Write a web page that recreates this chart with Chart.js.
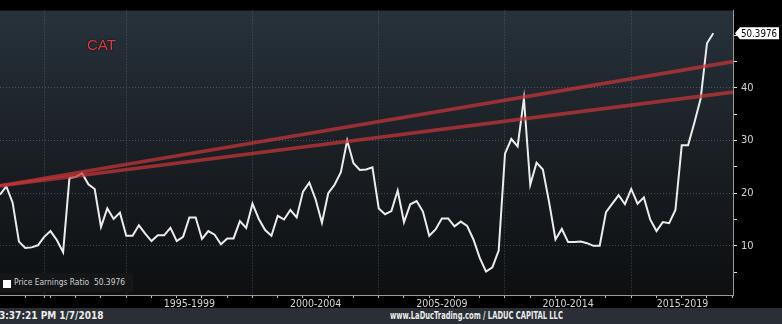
<!DOCTYPE html>
<html><head><meta charset="utf-8">
<script src="https://cdn.jsdelivr.net/npm/chart.js@4.4.0/dist/chart.umd.min.js"></script>
<style>
html,body{margin:0;padding:0;background:#000;width:782px;height:324px;overflow:hidden;}
#wrap{position:relative;width:782px;height:324px;background:#000;}
#c{position:absolute;left:0;top:0;}
#cat{position:absolute;left:87px;top:36px;font:15px "Liberation Sans",Arial,sans-serif;color:#d63c40;text-shadow:0 0 2px #000;}
#legend{position:absolute;left:0;top:273px;width:133px;height:19px;background:#141618;color:#cfcfcf;font:9px "DejaVu Sans Condensed","Liberation Sans Narrow",sans-serif;line-height:19px;}
#legend .box{position:absolute;left:3px;top:7px;width:8px;height:8px;background:#fff;}
#legend .txt{position:absolute;left:14px;top:0;white-space:pre;transform:scaleX(0.93);transform-origin:0 50%;}
#footer{position:absolute;left:0;top:308px;width:782px;height:16px;background:#2a2f35;color:#ececec;font:bold 10px "DejaVu Sans Condensed","Liberation Sans Narrow",sans-serif;line-height:16px;}
#footer .t{position:absolute;left:-1px;top:0;white-space:pre;}
#footer .w{position:absolute;left:390px;top:0;white-space:pre;transform:scaleX(0.75);transform-origin:0 50%;}
</style></head>
<body><div id="wrap">
<canvas id="c" width="782" height="308"></canvas>
<div id="cat">CAT</div>
<div id="legend"><div class="box"></div><div class="txt">Price Earnings Ratio  50.3976</div></div>
<div id="footer"><span class="t">3:37:21 PM 1/7/2018</span><span class="w">www.LaDucTrading.com / LADUC CAPITAL LLC</span></div>
</div>
<script>
// Quarterly price/earnings ratio for CAT, starting Q1 1990
const firstYear = 1990;
const peRatio = [
  19.7, 21.3, 18.2, 10.8, 9.6, 9.7, 10.1, 11.7, 12.8, 11.1,
  8.8, 22.9, 23.1, 23.8, 21.7, 20.8, 13.6, 17.1, 15.1, 16.3,
  11.9, 11.9, 13.9, 12.3, 10.9, 12.0, 12.0, 13.4, 10.9, 11.7,
  15.4, 15.4, 11.3, 12.8, 12.1, 10.3, 11.4, 11.4, 14.7, 13.4,
  18.0, 15.1, 13.0, 11.9, 15.7, 15.0, 16.8, 15.4, 20.3, 22.0,
  18.8, 14.4, 20.0, 21.6, 24.0, 30.0, 25.7, 24.4, 24.5, 24.9,
  17.1, 16.0, 16.6, 20.5, 14.5, 17.9, 18.5, 16.5, 11.9, 13.1,
  15.2, 15.2, 13.7, 14.6, 13.8, 11.2, 7.7, 5.1, 5.9, 9.1,
  27.5, 30.3, 28.9, 38.0, 21.6, 25.8, 24.5, 18.2, 11.2, 13.2,
  10.7, 10.7, 10.8, 10.5, 10.0, 10.0, 16.4, 18.0, 19.6, 17.9,
  20.8, 18.0, 19.2, 15.0, 12.8, 14.5, 14.3, 16.8, 29.1, 29.1,
  33.4, 38.0, 48.5, 50.3976
];
const lastValue = 50.3976;
const trendYears = [1990, 2019.03];
const upperTrend = [21.4, 45.0];
const lowerTrend = [21.4, 39.2];
const yTickValues = [5, 10, 15, 20, 25, 30, 35, 40, 45, 50];
const yLabelValues = [10, 20, 30, 40, 50];
const yGridValues = [10, 20, 30, 40];
const yearTicks = [1991,1992,1993,1994,1995,1996,1997,1998,1999,2000,2001,2002,2003,2004,2005,2006,2007,2008,2009,2010,2011,2012,2013,2014,2015,2016,2017,2018,2019];
const periodBounds = [1991.78, 1995, 2000, 2005, 2010, 2015];
const periodLabels = ['1995-1999', '2000-2004', '2005-2009', '2010-2014', '2015-2019'];
const periodLabelPos = [1997.5, 2002.5, 2007.5, 2012.5, 2017.03];

const FONT = '"DejaVu Sans Condensed","Liberation Sans Narrow",sans-serif';
const near = (a, b) => Math.abs(a - b) < 1e-6;

const bgPlugin = {
  id: 'bg',
  beforeDraw(chart) {
    const {ctx, chartArea: a} = chart;
    const g = ctx.createLinearGradient(0, a.top, 0, a.bottom);
    g.addColorStop(0, '#27323b');
    g.addColorStop(0.5, '#1a1f24');
    g.addColorStop(1, '#0d0f11');
    ctx.save();
    ctx.fillStyle = g;
    ctx.fillRect(a.left, a.top, a.right - a.left, a.bottom - a.top);
    ctx.restore();
  }
};
const valueBoxPlugin = {
  id: 'valueBox',
  afterDraw(chart) {
    const {ctx, chartArea: a} = chart;
    const y = chart.scales.y.getPixelForValue(lastValue);
    const x0 = a.right + 2;
    ctx.save();
    ctx.fillStyle = '#ffffff';
    ctx.beginPath();
    ctx.moveTo(x0, y);
    ctx.lineTo(x0 + 5, y - 6);
    ctx.lineTo(x0 + 44, y - 6);
    ctx.lineTo(x0 + 44, y + 6);
    ctx.lineTo(x0 + 5, y + 6);
    ctx.closePath();
    ctx.fill();
    const txt = lastValue.toFixed(4);
    ctx.fillStyle = '#000';
    ctx.font = '11px ' + FONT;
    ctx.textBaseline = 'middle';
    const w = ctx.measureText(txt).width;
    const sx = Math.min(1, 36 / w);
    ctx.translate(x0 + 6, y + 0.5);
    ctx.scale(sx, 1);
    ctx.fillText(txt, 0, 0);
    ctx.restore();
  }
};

const xTickValues = [...yearTicks, 1991.78, ...periodLabelPos].sort((a, b) => a - b);

new Chart(document.getElementById('c'), {
  type: 'line',
  data: {
    datasets: [
      {
        data: trendYears.map((x, i) => ({x, y: upperTrend[i]})),
        borderColor: 'rgba(195,52,56,0.74)', borderWidth: 3.6, pointRadius: 0, order: 0
      },
      {
        data: trendYears.map((x, i) => ({x, y: lowerTrend[i]})),
        borderColor: 'rgba(195,52,56,0.74)', borderWidth: 3.6, pointRadius: 0, order: 0
      },
      {
        label: 'Price Earnings Ratio',
        data: peRatio.map((v, i) => ({x: firstYear + i / 4, y: v})),
        borderColor: '#ececec', borderWidth: 2, pointRadius: 0, tension: 0, order: 1
      }
    ]
  },
  options: {
    responsive: false, animation: false,
    layout: {padding: {top: 2, left: 0, right: 0, bottom: 0}},
    plugins: {legend: {display: false}, tooltip: {enabled: false}},
    scales: {
      x: {
        type: 'linear', bounds: 'data', min: firstYear, max: trendYears[1],
        afterBuildTicks: s => { s.ticks = xTickValues.map(v => ({value: v})); },
        afterFit: s => { s.height = 13; },
        grid: {
          color: ctx => (ctx.tick && periodBounds.some(b => near(b, ctx.tick.value))) ? 'rgba(110,120,130,0.55)' : 'rgba(0,0,0,0)',
          tickColor: ctx => (ctx.tick && periodLabelPos.some(b => near(b, ctx.tick.value))) ? 'rgba(0,0,0,0)' : '#bdbdbd',
          tickLength: 3, lineWidth: 1
        },
        border: {color: '#9a9a9a', width: 1, dash: [1, 2]},
        ticks: {
          autoSkip: false, maxRotation: 0, minRotation: 0, padding: 0,
          color: '#d6d6d6', font: {family: FONT, size: 10.5},
          callback: v => { const k = periodLabelPos.findIndex(p => near(p, v)); return k >= 0 ? periodLabels[k] : ''; }
        }
      },
      y: {
        position: 'right', bounds: 'data', min: 0.65, max: 54.7,
        afterBuildTicks: s => { s.ticks = yTickValues.map(v => ({value: v})); },
        afterFit: s => { s.width = 49; },
        grid: {
          color: ctx => (ctx.tick && yGridValues.includes(ctx.tick.value)) ? 'rgba(110,120,130,0.55)' : 'rgba(0,0,0,0)',
          tickColor: '#e0e0e0', tickLength: 4, lineWidth: 1
        },
        border: {color: '#9a9a9a', width: 1, dash: [1, 2]},
        ticks: {
          autoSkip: false, padding: 4, color: '#d6d6d6', font: {family: FONT, size: 11},
          callback: v => yLabelValues.includes(v) ? String(v) : ''
        }
      }
    }
  },
  plugins: [bgPlugin, valueBoxPlugin]
});
</script>
</body></html>
